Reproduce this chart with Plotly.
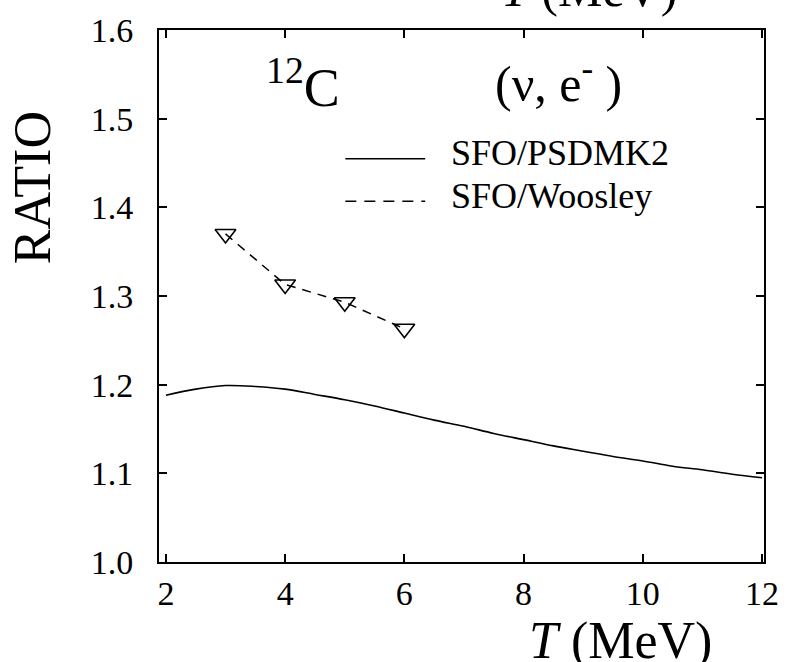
import plotly.graph_objects as go

# Data
T_curve = [2.0, 2.5, 3.0, 3.5, 4.0, 4.5, 5.0, 5.5, 6.0, 6.5, 7.0, 7.5, 8.0,
           8.5, 9.0, 9.5, 10.0, 10.5, 11.0, 11.5, 12.0]
ratio_psdmk2 = [1.188, 1.195, 1.199, 1.198, 1.195, 1.189, 1.183, 1.176, 1.168,
                1.160, 1.153, 1.145, 1.138, 1.131, 1.125, 1.119, 1.114, 1.108,
                1.104, 1.099, 1.095]
T_woosley = [3, 4, 5, 6]
ratio_woosley = [1.370, 1.313, 1.293, 1.263]

x_ticks = [2, 4, 6, 8, 10, 12]
y_ticks = [1.0, 1.1, 1.2, 1.3, 1.4, 1.5, 1.6]

FONT = "Liberation Serif"

fig = go.Figure()
fig.add_trace(go.Scatter(x=T_curve, y=ratio_psdmk2, mode="lines",
                         line=dict(color="black", width=1.6, shape="spline"),
                         showlegend=False))
fig.add_trace(go.Scatter(x=T_woosley, y=ratio_woosley, mode="lines+markers",
                         line=dict(color="black", width=1.5, dash="9px,7px"),
                         marker=dict(symbol="triangle-down-open", size=18,
                                     color="black", line=dict(width=1.6)),
                         showlegend=False))

axis_common = dict(showline=True, linecolor="black", linewidth=2, mirror="ticks",
                   ticks="inside", ticklen=8, tickwidth=1.6, tickcolor="black",
                   showgrid=False, zeroline=False,
                   tickfont=dict(family=FONT, size=34, color="black"))

fig.update_xaxes(range=[1.884, 12.033], tickvals=x_ticks,
                 ticktext=[str(v) for v in x_ticks], **axis_common)
fig.update_yaxes(range=[1.0, 1.6], tickvals=y_ticks,
                 ticktext=[f"{v:.1f}\u2002" for v in y_ticks], **axis_common)

annotations = [
    dict(text="RATIO", x=-0.21, y=0.7045, xref="paper", yref="paper",
         textangle=-90, showarrow=False, xanchor="center", yanchor="middle",
         font=dict(family=FONT, size=52, color="black")),
    dict(text="<i>T</i> (MeV)", x=0.762, y=-0.148, xref="paper", yref="paper",
         xanchor="center", yanchor="middle", showarrow=False,
         font=dict(family=FONT, size=52, color="black")),
    dict(text="<i>T</i> (MeV)", x=0.710, y=1.078, xref="paper", yref="paper",
         xanchor="center", yanchor="middle", showarrow=False,
         font=dict(family=FONT, size=50, color="black")),
    dict(text="<sup>12</sup>C", x=0.238, y=0.9, xref="paper", yref="paper",
         xanchor="center", yanchor="middle", showarrow=False,
         font=dict(family=FONT, size=54, color="black")),
    dict(text="(ν, e<sup>-</sup> )", x=0.661, y=0.905, xref="paper", yref="paper",
         xanchor="center", yanchor="middle", showarrow=False,
         font=dict(family=FONT, size=50, color="black")),
    dict(text="SFO/PSDMK2", x=0.479, y=0.768, xref="paper", yref="paper",
         xanchor="left", yanchor="middle", showarrow=False,
         font=dict(family=FONT, size=36, color="black")),
    dict(text="SFO/Woosley", x=0.479, y=0.688, xref="paper", yref="paper",
         xanchor="left", yanchor="middle", showarrow=False,
         font=dict(family=FONT, size=36, color="black")),
]

shapes = [
    dict(type="line", xref="paper", yref="paper", x0=0.308, x1=0.440,
         y0=0.758, y1=0.758, line=dict(color="black", width=1.5)),
    dict(type="line", xref="paper", yref="paper", x0=0.308, x1=0.440,
         y0=0.678, y1=0.678, line=dict(color="black", width=1.5, dash="11px,8px")),
]

fig.update_layout(width=791, height=662,
                  margin=dict(l=159, r=18, t=23, b=100),
                  paper_bgcolor="white", plot_bgcolor="white",
                  annotations=annotations, shapes=shapes)

fig.write_html("out.html")
